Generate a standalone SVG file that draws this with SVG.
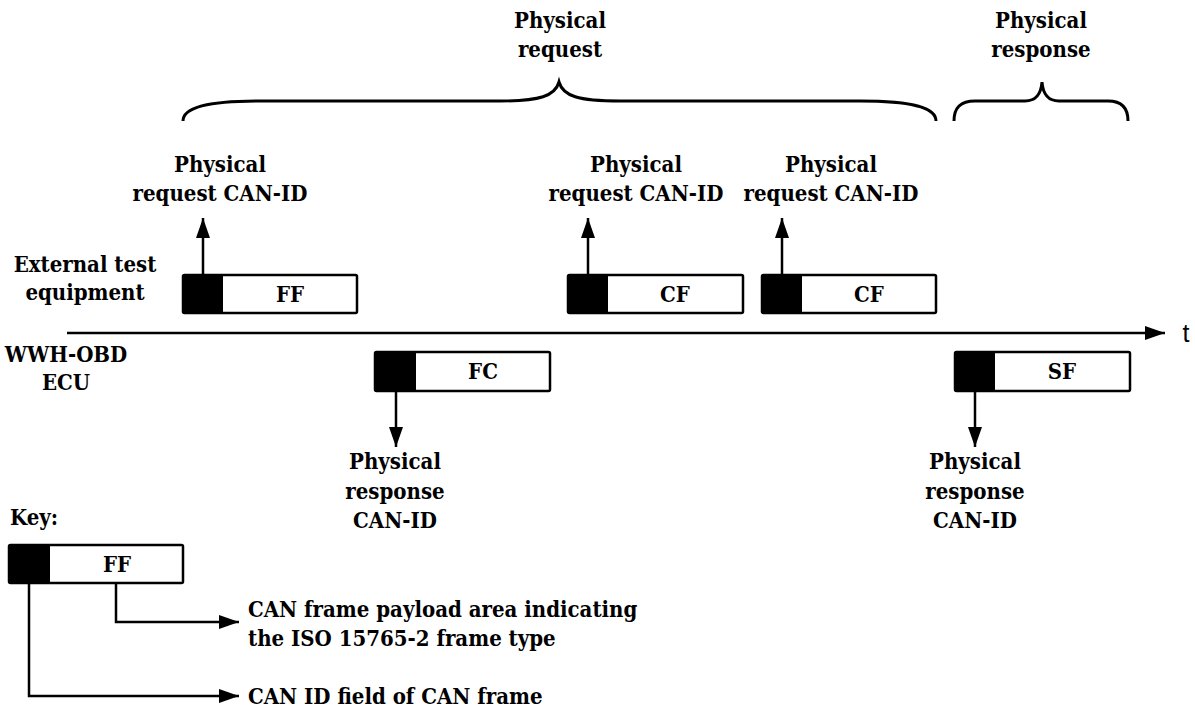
<svg xmlns="http://www.w3.org/2000/svg" width="1195" height="710" viewBox="0 0 1195 710">
<defs>
<style>
text{font-family:"DejaVu Serif Condensed","DejaVu Serif",serif;font-stretch:condensed;font-weight:bold;font-size:22px;fill:#000;text-anchor:middle}
.l{text-anchor:start}
.t{font-family:"Liberation Sans",Arial,sans-serif;font-weight:normal;font-stretch:normal;font-size:25px}
.box{fill:#fff;stroke:#000;stroke-width:2.5}
.id{fill:#000}
.ln{fill:none;stroke:#000;stroke-width:2.5}
.br{fill:none;stroke:#000;stroke-width:3}
</style>
<marker id="ah" viewBox="0 0 20 14" refX="20" refY="7" markerWidth="20" markerHeight="14" markerUnits="userSpaceOnUse" orient="auto">
<path d="M0,0 L20,7 L0,14 Z" fill="#000"/>
</marker>
</defs>
<rect width="1195" height="710" fill="#fff"/>

<g id="connectors">
<path class="br" d="M183,121 C183,108 205,101 260,101 L500,101 C540,101 555,96 559,82 C563,96 578,101 620,101 L860,101 C915,101 936,108 936,121"/>
<path class="br" d="M954,121 C954,108 960,101 975,101 L1025,101 C1035,101 1041,95 1042,82 C1043,95 1049,101 1059,101 L1108,101 C1122,101 1128,108 1128,121"/>
<line class="ln" x1="67" y1="333" x2="1165" y2="333" stroke-width="3.5" marker-end="url(#ah)"/>
<line class="ln" x1="203" y1="275" x2="203" y2="218" marker-end="url(#ah)"/>
<line class="ln" x1="588" y1="275" x2="588" y2="218" marker-end="url(#ah)"/>
<line class="ln" x1="782" y1="275" x2="782" y2="218" marker-end="url(#ah)"/>
<line class="ln" x1="396" y1="391" x2="396" y2="447" marker-end="url(#ah)"/>
<line class="ln" x1="975" y1="391" x2="975" y2="447" marker-end="url(#ah)"/>
<polyline class="ln" points="116,584 116,622 239,622" marker-end="url(#ah)"/>
<polyline class="ln" points="29,584 29,696 239,696" marker-end="url(#ah)"/>
</g>

<g id="label-physical-request"><text x="560" y="28">Physical</text><text x="560" y="57">request</text></g>
<g id="label-physical-response"><text x="1041" y="28">Physical</text><text x="1041" y="57">response</text></g>

<g id="label-req-id-1"><text x="220" y="172">Physical</text><text x="220" y="201">request CAN-ID</text></g>
<g id="label-req-id-2"><text x="636" y="172">Physical</text><text x="636" y="201">request CAN-ID</text></g>
<g id="label-req-id-3"><text x="831" y="172">Physical</text><text x="831" y="201">request CAN-ID</text></g>

<g id="label-ext"><text x="85" y="272">External test</text><text x="85" y="300">equipment</text></g>
<g id="label-ecu"><text x="66" y="362">WWH-OBD</text><text x="66" y="390">ECU</text></g>
<g id="label-t"><text class="t" x="1186" y="342">t</text></g>

<g id="frame-ff">
<rect class="box" x="183" y="275" width="174" height="38" rx="1.5"/>
<rect class="id" x="183" y="275" width="40" height="38"/>
<text x="290" y="302">FF</text>
</g>
<g id="frame-cf1">
<rect class="box" x="568" y="275" width="175" height="38" rx="1.5"/>
<rect class="id" x="568" y="275" width="40" height="38"/>
<text x="675" y="302">CF</text>
</g>
<g id="frame-cf2">
<rect class="box" x="762" y="275" width="174" height="38" rx="1.5"/>
<rect class="id" x="762" y="275" width="40" height="38"/>
<text x="869" y="302">CF</text>
</g>
<g id="frame-fc">
<rect class="box" x="375" y="352" width="175" height="39" rx="1.5"/>
<rect class="id" x="375" y="352" width="41" height="39"/>
<text x="483" y="379">FC</text>
</g>
<g id="frame-sf">
<rect class="box" x="955" y="352" width="175" height="39" rx="1.5"/>
<rect class="id" x="955" y="352" width="40" height="39"/>
<text x="1062" y="379">SF</text>
</g>

<g id="label-resp-id-1"><text x="395" y="469">Physical</text><text x="395" y="499">response</text><text x="395" y="528">CAN-ID</text></g>
<g id="label-resp-id-2"><text x="975" y="469">Physical</text><text x="975" y="499">response</text><text x="975" y="528">CAN-ID</text></g>

<g id="key">
<text class="l" x="10" y="525">Key:</text>
<rect class="box" x="9" y="545" width="174" height="38" rx="1.5"/>
<rect class="id" x="9" y="545" width="41" height="38"/>
<text x="117" y="572">FF</text>
<text class="l" x="248" y="617">CAN frame payload area indicating</text>
<text class="l" x="248" y="646">the ISO 15765-2 frame type</text>
<text class="l" x="248" y="704">CAN ID field of CAN frame</text>
</g>
</svg>
